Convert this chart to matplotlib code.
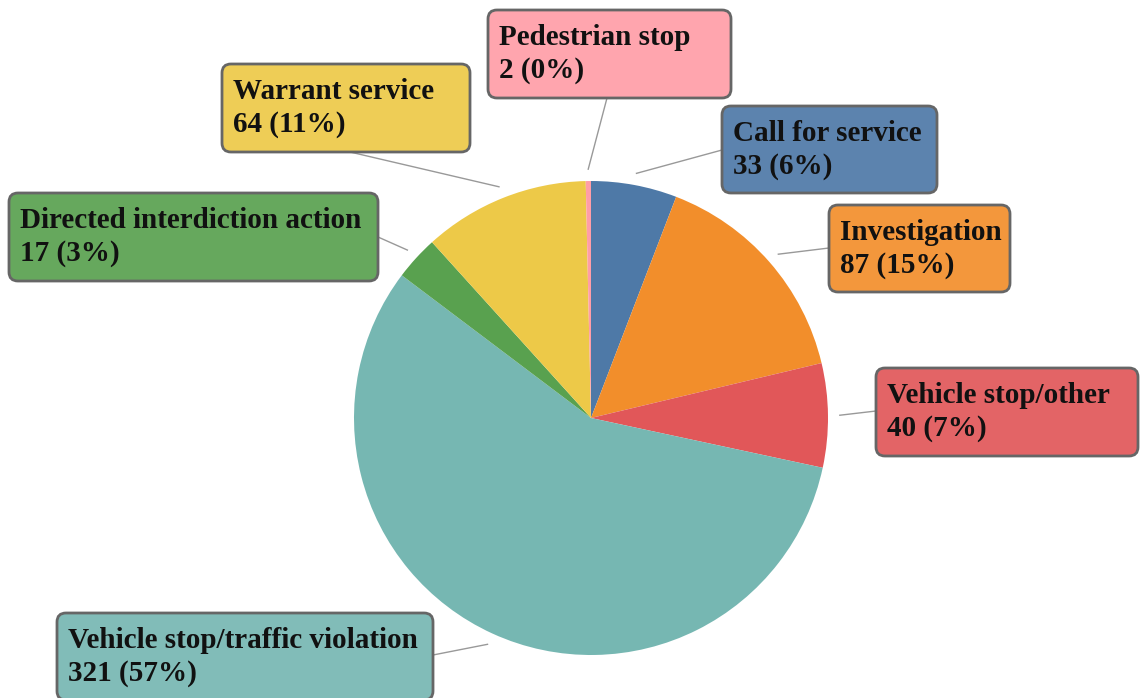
import numpy as np
import matplotlib.pyplot as plt
from matplotlib.colors import to_rgba
from matplotlib.patches import FancyBboxPatch

# slice data, clockwise from 12 o'clock
categories = ["Call for service", "Investigation", "Vehicle stop/other",
              "Vehicle stop/traffic violation", "Directed interdiction action",
              "Warrant service", "Pedestrian stop"]
counts = [33, 87, 40, 321, 17, 64, 2]
colors = ["#4E79A7", "#F28E2B", "#E15759", "#76B7B2", "#59A14F", "#EDC948", "#FF9DA7"]

# label boxes in pixel coords: left, top, right, bottom (y from top)
boxes = [(722, 106, 937, 193), (829, 205, 1010, 292), (876, 368, 1138, 456),
         (57, 613, 433, 700), (9, 193, 378, 281), (222, 64, 470, 152),
         (488, 10, 731, 98)]
# where the leader line meets each box (pixel coords)
anchors = [(722, 150), (829, 248), (876, 411), (433, 655), (378, 237),
           (350, 152), (607, 98)]

W, H = 1140, 698
fig = plt.figure(figsize=(W / 100, H / 100), dpi=100)
ax = fig.add_axes([0, 0, 1, 1])

cx, cy, R = 591, H - 418, 237
wedges, _ = ax.pie(counts, colors=colors, startangle=90, counterclock=False,
                   center=(cx, cy), radius=R, wedgeprops=dict(linewidth=0))
ax.set_xlim(0, W)
ax.set_ylim(0, H)
ax.set_aspect("equal")
ax.axis("off")

total = sum(counts)
font = dict(family="Liberation Serif", weight="bold", size=21, color="#111111")

for w, name, n, col, (x0, y0, x1, y1), (axp, ayp) in zip(
        wedges, categories, counts, colors, boxes, anchors):
    mid = np.deg2rad((w.theta1 + w.theta2) / 2)
    sx = cx + R * 1.05 * np.cos(mid)
    sy = cy + R * 1.05 * np.sin(mid)
    ax.plot([sx, axp], [sy, H - ayp], color="#999999", lw=1, zorder=1)
    box = FancyBboxPatch((x0 + 4, H - y1 + 4), x1 - x0 - 8, y1 - y0 - 8,
                         boxstyle="round,pad=4,rounding_size=9",
                         facecolor=to_rgba(col, 0.92), edgecolor="#666666",
                         linewidth=2, zorder=3)
    ax.add_patch(box)
    pct = round(n / total * 100)
    ax.text(x0 + 11, H - (y0 + 35), name, va="baseline", ha="left", zorder=5, **font)
    ax.text(x0 + 11, H - (y0 + 68), f"{n} ({pct}%)", va="baseline", ha="left",
            zorder=5, **font)

fig.savefig("out.png", dpi=100)
